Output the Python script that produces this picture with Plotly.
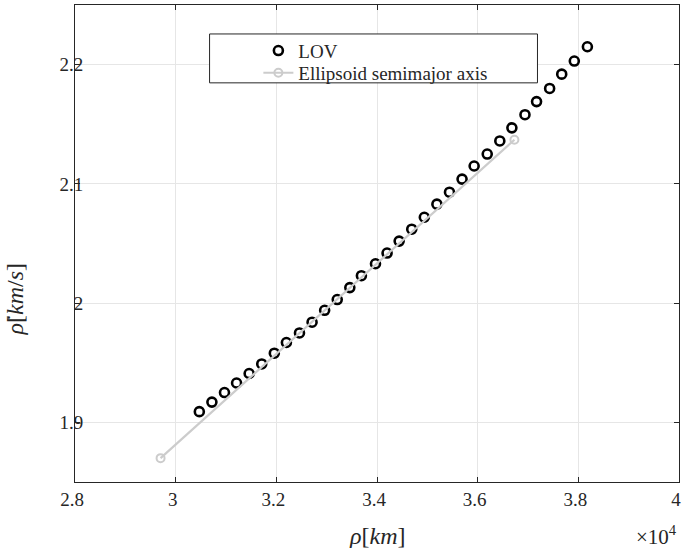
import plotly.graph_objects as go

# LOV samples (rho in km, rho_dot in km/s)
lov_rho = [30470, 30720, 30970, 31210, 31460, 31710, 31960, 32200, 32460, 32710,
           32960, 33210, 33460, 33690, 33970, 34200, 34440, 34690, 34940, 35190,
           35440, 35690, 35930, 36190, 36440, 36680, 36940, 37170, 37430, 37670,
           37920, 38180]
lov_rhodot = [1.909, 1.917, 1.925, 1.933, 1.941, 1.949, 1.958, 1.967, 1.975, 1.984,
              1.994, 2.003, 2.013, 2.023, 2.033, 2.042, 2.052, 2.062, 2.072, 2.083,
              2.093, 2.104, 2.115, 2.125, 2.136, 2.147, 2.158, 2.169, 2.180, 2.192,
              2.203, 2.215]

# ellipsoid semimajor axis end points
ell_rho = [29700, 36730]
ell_rhodot = [1.870, 2.137]

x_ticks = [28000, 30000, 32000, 34000, 36000, 38000, 40000]
x_labels = ['2.8', '3', '3.2', '3.4', '3.6', '3.8', '4']
y_ticks = [1.9, 2.0, 2.1, 2.2]
y_labels = ['1.9', '2', '2.1', '2.2']

font = 'Liberation Serif'
dark = '#262626'

fig = go.Figure()
fig.add_trace(go.Scatter(
    x=lov_rho, y=lov_rhodot, mode='markers', name='LOV', legend='legend',
    marker=dict(symbol='circle-open', size=9, color='black', line=dict(width=2.6, color='black'))
))
fig.add_trace(go.Scatter(
    x=ell_rho, y=ell_rhodot, mode='lines+markers', name='Ellipsoid semimajor axis', legend='legend2',
    line=dict(color='#cccccc', width=2.2),
    marker=dict(symbol='circle-open', size=8, color='#cccccc', line=dict(width=2, color='#cccccc'))
))

axis_common = dict(
    showline=True, linecolor=dark, linewidth=1, mirror='ticks',
    ticks='inside', ticklen=5, tickcolor=dark,
    showgrid=True, gridcolor='#e6e6e6', gridwidth=1, zeroline=False,
    tickfont=dict(family=font, size=19, color=dark),
)

leg = dict(xanchor='left', yanchor='top', bgcolor='rgba(0,0,0,0)', borderwidth=0,
           font=dict(family=font, size=19, color=dark))

fig.update_layout(
    width=685, height=548,
    margin=dict(l=75, r=4, t=4, b=66),
    paper_bgcolor='white', plot_bgcolor='white',
    xaxis=dict(range=[28000, 40000], tickvals=x_ticks, ticktext=x_labels,
               ticklabelshift=-3, **axis_common),
    yaxis=dict(range=[1.85, 2.25], tickvals=y_ticks, ticktext=y_labels,
               ticklabelstandoff=-13, **axis_common),
    showlegend=True,
    legend=dict(x=0.3036, y=0.944, **leg),
    legend2=dict(x=0.3036, y=0.8975, **leg),
    shapes=[dict(type='rect', xref='paper', yref='paper',
                 x0=0.2228, x1=0.7657, y0=0.8368, y1=0.9393,
                 line=dict(color=dark, width=1), fillcolor='white', layer='above')],
    annotations=[
        dict(text='<i>ρ</i>[<i>km</i>]', xref='paper', yref='paper', x=0.5, y=-0.113,
             xanchor='center', yanchor='middle', showarrow=False,
             font=dict(family=font, size=24, color=dark)),
        dict(text='×10<sup>4</sup>', xref='paper', yref='paper', x=1.0, y=-0.112,
             xanchor='right', yanchor='middle', showarrow=False,
             font=dict(family=font, size=21, color=dark)),
        dict(text='<i>ρ̇</i>[<i>km</i>/<i>s</i>]', xref='paper', yref='paper', x=-0.099, y=0.383,
             xanchor='center', yanchor='middle', showarrow=False, textangle=-90,
             font=dict(family=font, size=24, color=dark)),
    ],
)

fig.write_html("out.html", config={'displayModeBar': False},
               post_script="document.body.style.margin='0px';"
                           "document.body.style.overflow='hidden';")
